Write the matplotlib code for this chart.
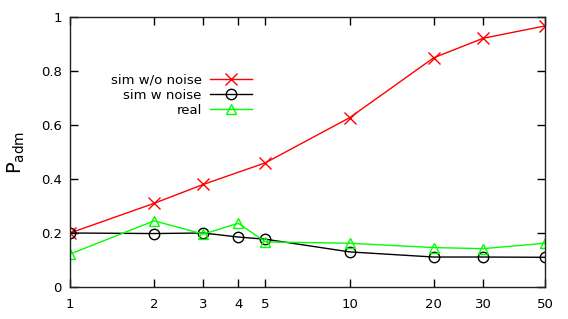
import matplotlib
matplotlib.use('Agg')
import matplotlib.pyplot as plt
from matplotlib.ticker import FixedLocator, FixedFormatter, NullLocator

# x values (log scale)
n = [1, 2, 3, 4, 5, 10, 20, 30, 50]
x_nonoise = [1, 2, 3, 5, 10, 20, 30, 50]
sim_nonoise = [0.20, 0.31, 0.38, 0.46, 0.627, 0.849, 0.921, 0.967]
sim_noise = [0.20, 0.198, 0.20, 0.185, 0.177, 0.13, 0.111, 0.111, 0.110]
real = [0.122, 0.245, 0.196, 0.236, 0.167, 0.162, 0.146, 0.142, 0.162]
xticks = [1, 2, 3, 4, 5, 10, 20, 30, 50]
yticks = [0, 0.2, 0.4, 0.6, 0.8, 1]

plt.rcParams['font.family'] = ['DejaVu Sans']
plt.rcParams['font.size'] = 9.5

fig = plt.figure(figsize=(5.68, 3.19), dpi=100)
ax = fig.add_axes([70 / 568, 1 - 287 / 319, 475 / 568, 270 / 319])

ax.plot(x_nonoise, sim_nonoise, color='#ff0000', lw=1, marker='x', ms=8.5, mew=1,
        label='sim w/o noise')
ax.plot(n, sim_noise, color='black', lw=1, marker='o', ms=7.5, mfc='none', mew=1,
        label='sim w noise')
ax.plot(n, real, color='#00ff00', lw=1, marker='^', ms=7.5, mfc='none', mew=1,
        label='real')

ax.set_xscale('log')
ax.set_xlim(1, 50)
ax.set_ylim(0, 1)
ax.xaxis.set_major_locator(FixedLocator(xticks))
ax.xaxis.set_major_formatter(FixedFormatter([str(v) for v in xticks]))
ax.xaxis.set_minor_locator(NullLocator())
ax.set_yticks(yticks)
ax.set_yticklabels(['0', '0.2', '0.4', '0.6', '0.8', '1'])
ax.tick_params(direction='in', top=True, right=True, length=6, width=1, pad=6)
ax.tick_params(axis='x', pad=8)
for s in ax.spines.values():
    s.set_linewidth(1)
    s.set_color('#222222')

ax.set_ylabel(r'$\mathrm{P_{adm}}$', fontsize=14, labelpad=10)

ax.legend(loc='upper right', bbox_to_anchor=(0.383, 0.79), frameon=False,
          markerfirst=False, handlelength=3.2, handletextpad=0.6,
          labelspacing=0.15, borderpad=0, borderaxespad=0, fontsize=9.5)

fig.savefig('out.png', dpi=100)
